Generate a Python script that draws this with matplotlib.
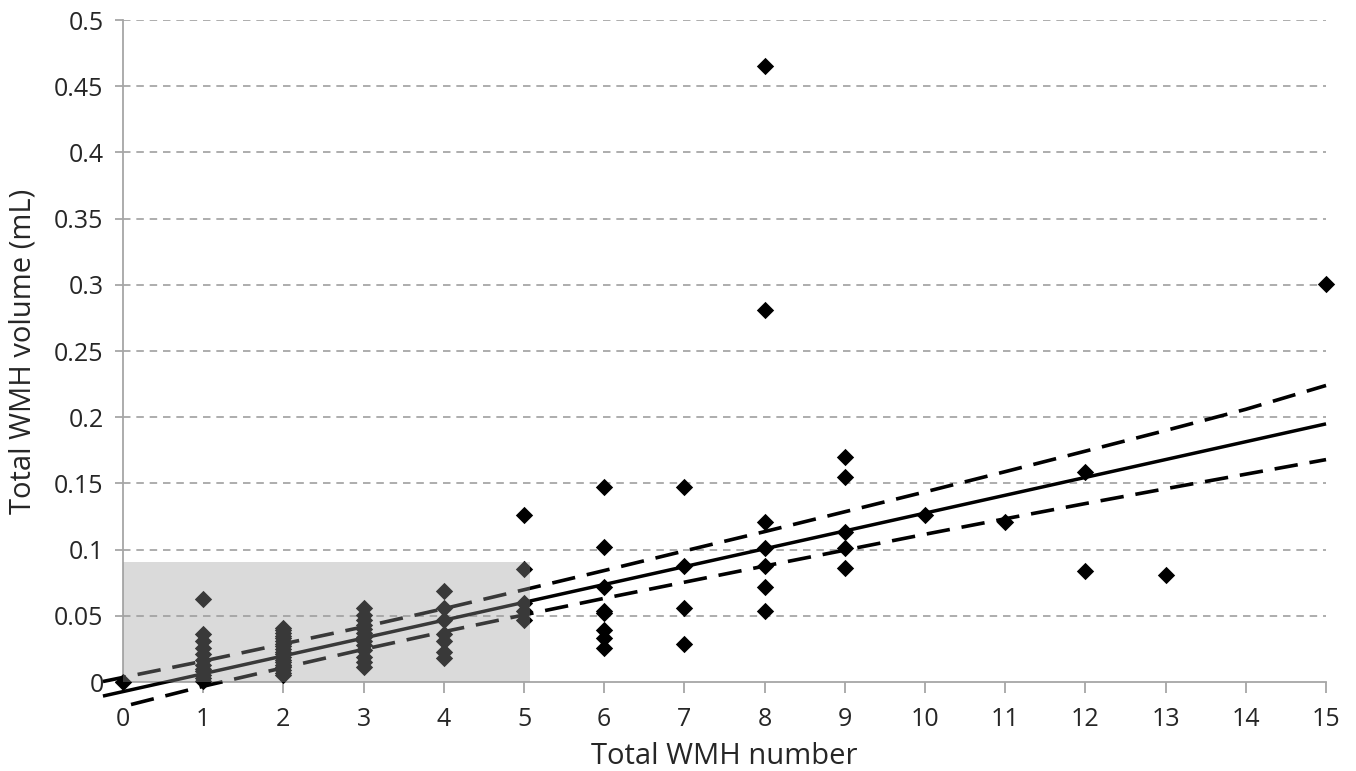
import matplotlib
matplotlib.use("Agg")
import matplotlib.pyplot as plt
from matplotlib.patches import Rectangle

plt.rcParams['font.family'] = ['Open Sans', 'DejaVu Sans']

# total WMH number (x) and total WMH volume in mL (y)
wmh_number = ([0]
              + [1] * 12
              + [2] * 19
              + [3] * 13
              + [4] * 7
              + [5] * 5
              + [6] * 8
              + [7] * 4
              + [8] * 7
              + [9] * 5
              + [10, 11, 12, 12, 13, 15])
wmh_volume = ([0.0]
              + [0.063, 0.036, 0.031, 0.026, 0.021, 0.017, 0.013, 0.010, 0.008, 0.005, 0.003, 0.001]
              + [0.041, 0.039, 0.037, 0.035, 0.033, 0.031, 0.029, 0.027, 0.025, 0.023,
                 0.021, 0.019, 0.017, 0.015, 0.013, 0.011, 0.009, 0.007, 0.005]
              + [0.056, 0.051, 0.047, 0.043, 0.040, 0.037, 0.034, 0.031, 0.028, 0.024, 0.019, 0.015, 0.011]
              + [0.069, 0.056, 0.047, 0.036, 0.031, 0.023, 0.018]
              + [0.126, 0.085, 0.060, 0.054, 0.047]
              + [0.147, 0.102, 0.072, 0.054, 0.052, 0.039, 0.033, 0.026]
              + [0.147, 0.088, 0.056, 0.029]
              + [0.465, 0.281, 0.121, 0.101, 0.088, 0.072, 0.054]
              + [0.170, 0.155, 0.113, 0.101, 0.086]
              + [0.126, 0.121, 0.159, 0.084, 0.081, 0.301])

# regression line and confidence band
fit_x = [-0.25, 15]
fit_y = [-0.0106, 0.195]
band_x = [-0.25, 1, 2, 3, 4, 5, 6, 7, 8, 9, 10, 11, 12, 13, 14, 15]
band_upper = [0.0004, 0.0158, 0.0288, 0.0417, 0.0554, 0.0697, 0.0842, 0.099,
              0.1136, 0.1286, 0.1436, 0.1589, 0.1744, 0.190, 0.206, 0.224]
lower_x = [0.1, 1, 2, 3, 4, 5, 6, 7, 8, 9, 10, 11, 12, 13, 14, 15]
band_lower = [-0.017, -0.0032, 0.0108, 0.0247, 0.038, 0.0507, 0.0632, 0.0754,
              0.0876, 0.0996, 0.1116, 0.1233, 0.1348, 0.146, 0.157, 0.168]

# shaded region (number <= 5, volume <= 0.09)
box_x = [0, 5.08]
box_y = [0, 0.0905]

fig = plt.figure(figsize=(13.56, 7.71), dpi=100)
ax = fig.add_axes([0.0907, 0.1154, 0.8872, 0.8586])

ax.set_xlim(0, 15)
ax.set_ylim(0, 0.5)

for yv in [0.05, 0.1, 0.15, 0.2, 0.25, 0.3, 0.35, 0.4, 0.45, 0.5]:
    ax.plot([0, 15], [yv, yv], color='#a0a0a0', lw=1.2, ls=(0, (4.5, 3.5)), zorder=1)

ax.scatter(wmh_number, wmh_volume, marker='D', s=78, color='black',
           linewidths=0, zorder=3, clip_on=False)

ax.plot(fit_x, fit_y, color='black', lw=2.5, zorder=4, clip_on=False,
        solid_capstyle='butt')
ax.plot(band_x, band_upper, color='black', lw=2.6, ls=(0, (6.5, 3.3)), zorder=4, clip_on=False)
ax.plot(lower_x, band_lower, color='black', lw=2.6, ls=(0, (6.5, 3.3)), zorder=4, clip_on=False)

ax.add_patch(Rectangle((box_x[0], box_y[0]), box_x[1] - box_x[0], box_y[1] - box_y[0],
                       facecolor='#9c9c9c', alpha=0.37, edgecolor='none', zorder=5))

for s in ['top', 'right']:
    ax.spines[s].set_visible(False)
for s in ['left', 'bottom']:
    ax.spines[s].set_color('#a6a6a6')
    ax.spines[s].set_linewidth(1.3)

ax.set_xticks(range(0, 16))
ax.set_yticks([0, 0.05, 0.1, 0.15, 0.2, 0.25, 0.3, 0.35, 0.4, 0.45, 0.5])
ax.set_yticklabels(['0', '0.05', '0.1', '0.15', '0.2', '0.25', '0.3', '0.35', '0.4', '0.45', '0.5'])
ax.tick_params(axis='both', direction='out', colors='#a6a6a6', labelcolor='#262626',
               labelsize=18, width=1.3)
ax.tick_params(axis='x', length=8, pad=10)
ax.tick_params(axis='y', length=6, pad=8)

ax.set_xlabel('Total WMH number', fontsize=21, color='#262626', labelpad=7)
ax.set_ylabel('Total WMH volume (mL)', fontsize=21, color='#262626', labelpad=12)

fig.savefig('out.png', dpi=100)
